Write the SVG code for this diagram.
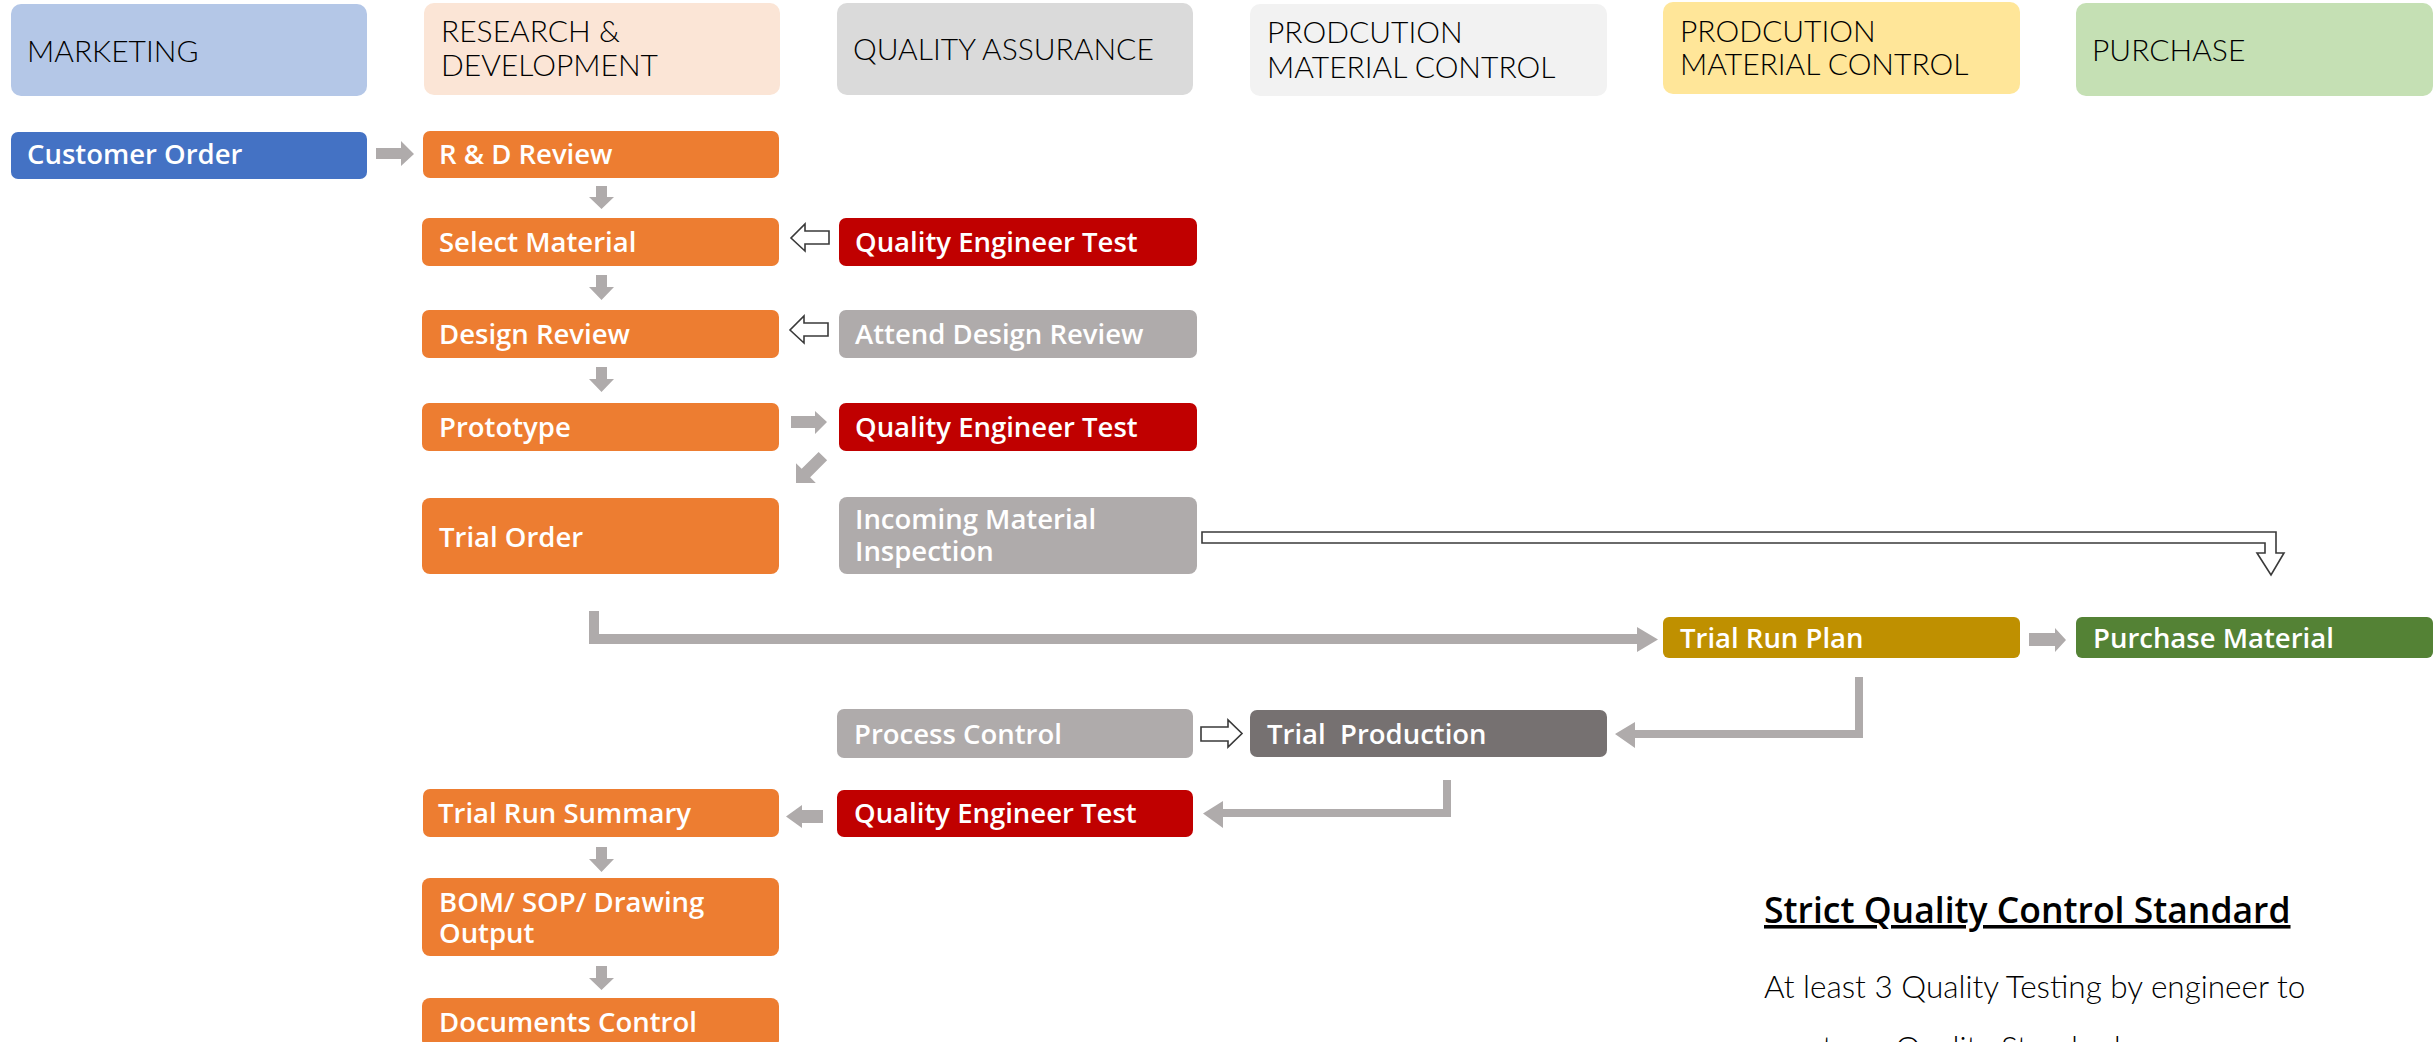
<svg xmlns="http://www.w3.org/2000/svg" width="2436" height="1042" viewBox="0 0 2436 1042">
<style>
.hdr{font-family:Lato,"Liberation Sans",sans-serif;font-weight:300;font-size:30px;fill:#000}
.nt{font-family:"Open Sans","Liberation Sans",sans-serif;font-weight:600;font-size:27.5px;fill:#fff}
.org{fill:#ED7D31}
.red{fill:#C00000}
.gry{fill:#AFABAB}
.arw{fill:#AFABAB}
.hol{fill:#fff;stroke:#3a3a3a;stroke-width:1.6}
.title{font-family:"Open Sans","Liberation Sans",sans-serif;font-weight:600;font-size:35.5px;fill:#000;text-decoration:underline}
.body{font-family:Lato,"Liberation Sans",sans-serif;font-weight:300;font-size:31.5px;fill:#000}
</style>
<rect width="2436" height="1042" fill="#fff"/>

<!-- headers -->
<g id="hdr-marketing"><rect x="11" y="4" width="356" height="92" rx="10" fill="#B4C7E7"/><text class="hdr" x="27" y="62">MARKETING</text></g>
<g id="hdr-rnd"><rect x="424" y="3" width="356" height="92" rx="10" fill="#FBE5D6"/><text class="hdr" x="441" y="42">RESEARCH &amp;</text><text class="hdr" x="441" y="76">DEVELOPMENT</text></g>
<g id="hdr-qa"><rect x="837" y="3" width="356" height="92" rx="10" fill="#DADADA"/><text class="hdr" x="853" y="60">QUALITY ASSURANCE</text></g>
<g id="hdr-pmc1"><rect x="1250" y="4" width="357" height="92" rx="10" fill="#F2F2F2"/><text class="hdr" x="1267" y="43">PRODCUTION</text><text class="hdr" x="1267" y="78">MATERIAL CONTROL</text></g>
<g id="hdr-pmc2"><rect x="1663" y="2" width="357" height="92" rx="10" fill="#FFE699"/><text class="hdr" x="1680" y="42">PRODCUTION</text><text class="hdr" x="1680" y="75">MATERIAL CONTROL</text></g>
<g id="hdr-purchase"><rect x="2076" y="3" width="357" height="93" rx="10" fill="#C5E0B4"/><text class="hdr" x="2092" y="61">PURCHASE</text></g>

<!-- nodes -->
<g id="customer-order"><rect x="11" y="132" width="356" height="47" rx="7" fill="#4472C4"/><text class="nt" x="27" y="164">Customer Order</text></g>
<g id="rd-review"><rect class="org" x="423" y="131" width="356" height="47" rx="7"/><text class="nt" x="439" y="164">R &amp; D Review</text></g>
<g id="select-material"><rect class="org" x="422" y="218" width="357" height="48" rx="7"/><text class="nt" x="439" y="252">Select Material</text></g>
<g id="qet1"><rect class="red" x="839" y="218" width="358" height="48" rx="7"/><text class="nt" x="855" y="252">Quality Engineer Test</text></g>
<g id="design-review"><rect class="org" x="422" y="310" width="357" height="48" rx="7"/><text class="nt" x="439" y="344">Design Review</text></g>
<g id="attend-design-review"><rect class="gry" x="839" y="310" width="358" height="48" rx="7"/><text class="nt" x="855" y="344">Attend Design Review</text></g>
<g id="prototype"><rect class="org" x="422" y="403" width="357" height="48" rx="7"/><text class="nt" x="439" y="437">Prototype</text></g>
<g id="qet2"><rect class="red" x="839" y="403" width="358" height="48" rx="7"/><text class="nt" x="855" y="437">Quality Engineer Test</text></g>
<g id="trial-order"><rect class="org" x="422" y="498" width="357" height="76" rx="8"/><text class="nt" x="439" y="547">Trial Order</text></g>
<g id="incoming-inspection"><rect class="gry" x="839" y="497" width="358" height="77" rx="8"/><text class="nt" x="855" y="529">Incoming Material</text><text class="nt" x="855" y="561">Inspection</text></g>
<g id="trial-run-plan"><rect x="1663" y="617" width="357" height="41" rx="6" fill="#BF9000"/><text class="nt" x="1680" y="648">Trial Run Plan</text></g>
<g id="purchase-material"><rect x="2076" y="617" width="357" height="41" rx="6" fill="#548235"/><text class="nt" x="2093" y="648">Purchase Material</text></g>
<g id="process-control"><rect class="gry" x="837" y="709" width="356" height="49" rx="7"/><text class="nt" x="854" y="744">Process Control</text></g>
<g id="trial-production"><rect x="1250" y="710" width="357" height="47" rx="7" fill="#767171"/><text class="nt" x="1267" y="744" xml:space="preserve">Trial  Production</text></g>
<g id="qet3"><rect class="red" x="837" y="790" width="356" height="47" rx="7"/><text class="nt" x="854" y="823">Quality Engineer Test</text></g>
<g id="trial-run-summary"><rect class="org" x="423" y="789" width="356" height="48" rx="7"/><text class="nt" x="438" y="823">Trial Run Summary</text></g>
<g id="bom-output"><rect class="org" x="422" y="878" width="357" height="78" rx="8"/><text class="nt" x="439" y="912">BOM/ SOP/ Drawing</text><text class="nt" x="439" y="943">Output</text></g>
<g id="documents-control"><rect class="org" x="422" y="998" width="357" height="50" rx="8"/><text class="nt" x="439" y="1032">Documents Control</text></g>

<!-- connectors -->
<g id="connectors">
<polygon class="arw" points="376,148 401,148 401,141 414,154 401,166 401,159 376,159"/>
<polygon class="arw" points="596,186 607,186 607,197 614,197 601.5,209 589,197 596,197"/>
<polygon class="arw" points="596,275 607,275 607,287 614,287 601.5,300 589,287 596,287"/>
<polygon class="arw" points="596,367 607,367 607,379 614,379 601.5,392 589,379 596,379"/>
<polygon class="arw" points="596,847 607,847 607,859 614,859 601.5,872 589,859 596,859"/>
<polygon class="arw" points="596,966 607,966 607,978 614,978 601.5,990 589,978 596,978"/>
<polygon class="hol" points="829,231 805,231 805,224 791,238 805,251 805,244 829,244"/>
<polygon class="hol" points="828,323 804,323 804,316 790,330 804,343 804,336 828,336"/>
<polygon class="arw" points="791,416 815,416 815,411 827,422 815,434 815,428 791,428"/>
<polygon class="arw" transform="translate(796,483) rotate(-45)" points="0,0 14,-14 14,-6 38,-6 38,6 14,6 14,14"/>
<polygon class="hol" points="1202,532 2276,532 2276,553 2284,553 2271,575 2257,553 2265,553 2265,543 1202,543"/>
<polygon class="arw" points="589,611 599,611 599,634 1637,634 1637,627 1658,639.5 1637,652 1637,644 589,644"/>
<polygon class="arw" points="2029,633 2055,633 2055,628 2066,640 2055,652 2055,646 2029,646"/>
<polygon class="arw" points="1855,677 1863,677 1863,738 1635,738 1635,748 1615,734 1635,722 1635,730 1855,730"/>
<polygon class="hol" points="1201,727 1228,727 1228,720 1242,733.5 1228,747 1228,741 1201,741"/>
<polygon class="arw" points="1443,780 1451,780 1451,817 1223,817 1223,828 1203,813.5 1223,801 1223,809 1443,809"/>
<polygon class="arw" points="823,810 802,810 802,805 786,816.5 802,828 802,823 823,823"/>
</g>

<!-- note -->
<g id="note">
<text class="title" x="1764" y="923">Strict Quality Control Standard</text>
<text class="body" x="1764" y="998">At least 3 Quality Testing by engineer to</text>
<text class="body" x="1764" y="1059">meet our Quality Standard</text>
</g>
</svg>
